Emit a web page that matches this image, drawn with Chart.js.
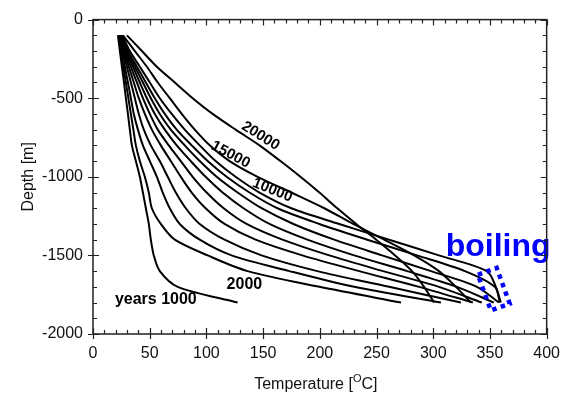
<!DOCTYPE html>
<html><head><meta charset="utf-8">
<script src="https://cdn.jsdelivr.net/npm/chart.js@4.4.0/dist/chart.umd.min.js"></script>
<style>html,body{margin:0;padding:0;background:#fff;}#c{display:block;}</style>
</head><body>
<canvas id="c" width="570" height="398"></canvas>
<script>
// Depth rows (m) shared by all curves
const depths = [-100,-200,-300,-400,-500,-600,-700,-800,-900,-1000,-1100,-1200,-1300,-1400,-1500,-1600,-1700,-1800];
const years = ['1000','2000','3000','4000','5000','6000','7000','8000','9000','10000','15000','20000'];
// Temperature (°C) at each depth row
const t1000  = [22,23.7,25.5,27.3,29,30.8,32.5,34.3,37.8,41.3,44,46.6,49.2,51,53.6,58.9,74.7,127.5];
const t2000  = [22.4,24.6,26.8,29,31.2,33.4,35.6,37.8,41.3,45.7,49.2,51.9,59.8,72.1,101.1,136.3,199.6,271.6];
const t3000  = [22.9,25.5,28.1,30.8,33.4,36,39.6,44,50.1,56.3,61.5,67.7,76.5,94.1,122.2,173.2,230.3,306.8];
const t4000  = [23.3,26.4,29.9,33.4,36.9,40.4,44.8,51,58.9,65.9,73,81.8,94.1,116,148.6,197.8,261.1,324.4];
const t5000  = [23.7,27.3,31.6,36,40.4,45.7,51.9,59.8,68.6,77.4,87,99.3,116,143.3,184.6,234.7,287.5,334.9];
const t6000  = [24.2,28.1,33.4,38.7,44,50.1,57.1,66.8,77.4,87.9,100.2,115.2,135.4,167,208.3,255.8,305,342.8];
const t7000  = [24.6,29,35.2,41.3,47.5,54.5,63.3,73.8,86.2,99.3,114.3,132.7,155.6,189,230.3,276.9,320.9,353.4];
const t8000  = [25.1,29.9,36.9,44,51,58.9,68.6,80.9,94.1,109,127.5,148.6,176.7,212.7,254.9,298,338.5,357.8];
const t9000  = [25.5,30.8,38.7,46.6,54.5,63.3,73.8,87,101.1,117.8,138,162.6,199.6,241.8,285.7,327.9,354.3,358.7];
const t10000 = [25.9,32.5,41.3,50.1,58.9,69.4,80.9,94.1,108.1,125.7,146.8,174.9,217.1,261.1,305,347.2,355.2,359.6];
const t15000 = [26.4,36.9,47.5,57.1,67.7,78.2,89.7,102.9,120.4,145.1,174.9,204,229.4,256.7,283.1,305,320,333.2];
const t20000 = [29.9,43.1,56.3,72.1,87.9,105.5,125.7,146.8,165.3,182.9,199.6,215.4,232.1,249.7,266.4,281.3,291.9,300.7];
const series = [t1000,t2000,t3000,t4000,t5000,t6000,t7000,t8000,t9000,t10000,t15000,t20000];
const xTicks = [0,50,100,150,200,250,300,350,400];
const yTicks = [0,-500,-1000,-1500,-2000];

const FONT = 'Liberation Sans, Arial, sans-serif';

const datasets = series.map((s,i)=>({
  label: years[i],
  data: s.map((t,j)=>({x:t, y:depths[j]})),
  showLine:true, borderColor:'#000', borderWidth:2, pointRadius:0, tension:0.3, fill:false
}));

const framePlugin = {
  id:'frame',
  afterDraw(chart){
    const {ctx, chartArea:a, scales:{x,y}} = chart;
    ctx.save();
    ctx.strokeStyle='#222';
    ctx.lineWidth=1.5;
    ctx.strokeRect(a.left, a.top, a.right-a.left, a.bottom-a.top);
    ctx.lineWidth=1.2;
    ctx.beginPath();
    const xs = xTicks[0], xe = xTicks[xTicks.length-1];
    for(let v=xs; v<=xe; v+=10){
      const px = Math.round(x.getPixelForValue(v))+0.5;
      const major = xTicks.includes(v);
      const inL = major?6:4;
      ctx.moveTo(px, a.bottom+(major?5:0)); ctx.lineTo(px, a.bottom-inL);
      ctx.moveTo(px, a.top); ctx.lineTo(px, a.top+inL);
    }
    const ys = yTicks[yTicks.length-1], ye = yTicks[0];
    for(let v=ys; v<=ye; v+=100){
      const py = Math.round(y.getPixelForValue(v))+0.5;
      const major = yTicks.includes(v);
      const inL = major?6:4;
      ctx.moveTo(a.left-(major?5:0), py); ctx.lineTo(a.left+inL, py);
      ctx.moveTo(a.right, py); ctx.lineTo(a.right-inL, py);
    }
    ctx.stroke();

    // axis titles
    ctx.fillStyle='#111';
    ctx.textBaseline='alphabetic';
    const t1='Temperature [', sup='O', t2='C]';
    ctx.font='16px '+FONT; const w1=ctx.measureText(t1).width, w3=ctx.measureText(t2).width;
    ctx.font='11px '+FONT; const w2=ctx.measureText(sup).width;
    const total=w1+w2+w3;
    const cx=(a.left+a.right)/2-4, by=389;
    let sx=cx-total/2;
    ctx.font='16px '+FONT; ctx.textAlign='left'; ctx.fillText(t1,sx,by);
    ctx.font='11px '+FONT; ctx.fillText(sup,sx+w1,by-7);
    ctx.font='16px '+FONT; ctx.fillText(t2,sx+w1+w2,by);
    ctx.save();
    ctx.translate(33,(a.top+a.bottom)/2);
    ctx.rotate(-Math.PI/2);
    ctx.textAlign='center';
    ctx.fillText('Depth [m]',0,0);
    ctx.restore();
    ctx.restore();
  }
};

const labelPlugin = {
  id:'labels',
  afterDatasetsDraw(chart){
    const {ctx, scales:{x,y}} = chart;
    ctx.save();
    ctx.fillStyle='#000';
    const rot = [
      {t:'20000', X:147.7, Y:-740, a:32},
      {t:'15000', X:121.3, Y:-859, a:28},
      {t:'10000', X:158.2, Y:-1085, a:22}
    ];
    ctx.font='bold 15px '+FONT;
    ctx.textAlign='center'; ctx.textBaseline='middle';
    rot.forEach(r=>{
      ctx.save();
      ctx.translate(x.getPixelForValue(r.X), y.getPixelForValue(r.Y));
      ctx.rotate(r.a*Math.PI/180);
      ctx.fillText(r.t,0,0);
      ctx.restore();
    });
    ctx.font='bold 16px '+FONT;
    ctx.textAlign='left'; ctx.textBaseline='alphabetic';
    ctx.fillText('2000', x.getPixelForValue(117.8), y.getPixelForValue(-1712));
    ctx.fillText('years 1000', x.getPixelForValue(19.3), y.getPixelForValue(-1812));
    // boiling
    ctx.fillStyle='#0000ff';
    ctx.font='bold 32px '+FONT;
    ctx.fillText('boiling', x.getPixelForValue(311), y.getPixelForValue(-1505));
    ctx.save();
    ctx.translate(x.getPixelForValue(353.4), y.getPixelForValue(-1715));
    ctx.rotate(-20*Math.PI/180);
    ctx.strokeStyle='#0000ff';
    ctx.lineWidth=4.5;
    ctx.setLineDash([4.5,4.5]);
    ctx.strokeRect(-10,-19,20,38);
    ctx.restore();
    ctx.restore();
  }
};

new Chart(document.getElementById('c'), {
  type:'scatter',
  data:{datasets},
  options:{
    responsive:false, animation:false,
    layout:{padding:{top:15,right:22,left:0,bottom:0}},
    plugins:{legend:{display:false}, tooltip:{enabled:false}},
    scales:{
      x:{type:'linear', min:0, max:400,
         ticks:{stepSize:50, color:'#111', font:{family:FONT,size:16}, padding:10,
                callback:(v)=>String(v)},
         grid:{display:false, drawTicks:false}, border:{display:false},
         afterFit(s){ s.height=64; }},
      y:{type:'linear', min:-2000, max:0,
         ticks:{stepSize:500, color:'#111', font:{family:FONT,size:16}, padding:10,
                callback:(v)=>String(v)},
         grid:{display:false, drawTicks:false}, border:{display:false},
         afterFit(s){ s.width=93; }}
    }
  },
  plugins:[framePlugin, labelPlugin]
});
</script>
</body></html>
